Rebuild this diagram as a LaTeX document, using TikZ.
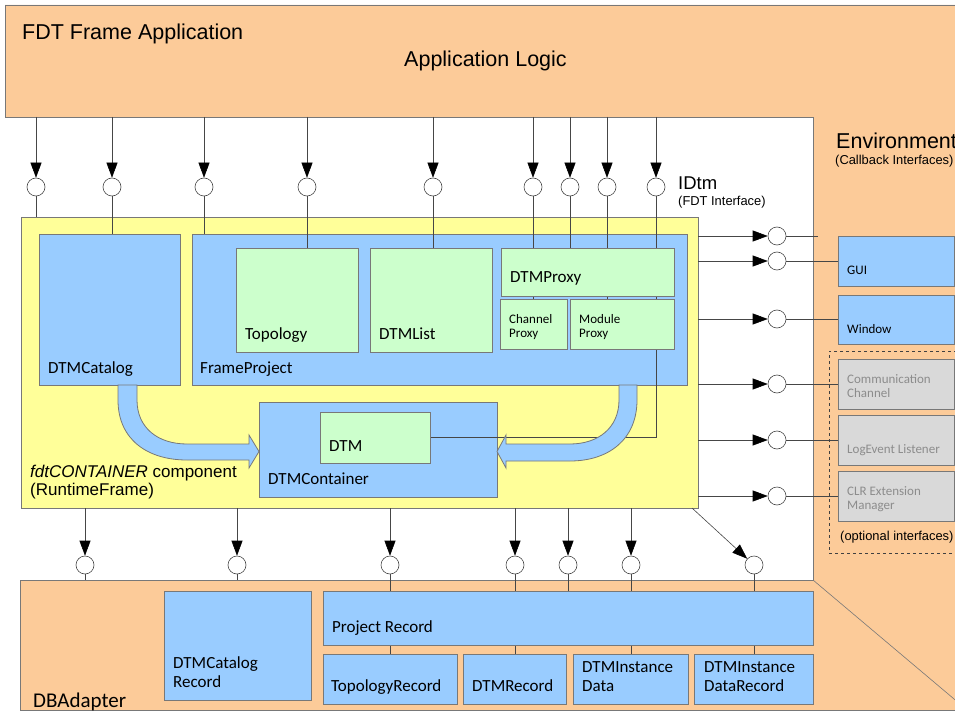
\documentclass[tikz,border=0pt]{standalone}
\usepackage{fontspec}
\setmainfont{Liberation Sans}
\newfontfamily\calfont{Carlito}
\usetikzlibrary{arrows.meta,calc}
\definecolor{orng}{RGB}{252,203,153}
\definecolor{ylw}{RGB}{255,255,153}
\definecolor{blu}{RGB}{153,204,255}
\definecolor{grn}{RGB}{204,255,204}
\definecolor{gry}{RGB}{217,217,217}
\definecolor{gtxt}{RGB}{140,140,140}
\definecolor{bordc}{RGB}{120,120,120}
\definecolor{wirec}{RGB}{70,70,70}
\pgfdeclarelayer{back}
\pgfdeclarelayer{wires}
\pgfsetlayers{back,wires,main}
\tikzset{
  box/.style={draw=bordc, line width=0.8pt, anchor=north west, inner sep=0pt, outer sep=0pt},
  bluebox/.style={box, fill=blu},
  greenbox/.style={box, fill=grn},
  graybox/.style={box, fill=gry},
  ifc/.style={circle, draw=wirec, fill=white, minimum size=18pt, inner sep=0pt, line width=0.6pt},
  wire/.style={draw=wirec, line width=0.6pt},
  arr/.style={wire, -{Triangle[length=15pt,width=11pt,color=black,fill=black]}},
  lbl/.style={anchor=base west, inner sep=0pt, font=\calfont\fontsize{17}{17}\selectfont},
  slbl/.style={anchor=base west, inner sep=0pt, font=\calfont\fontsize{13}{13}\selectfont},
  glbl/.style={slbl, text=gtxt},
  big/.style={anchor=base west, inner sep=0pt, font=\fontsize{21.5}{21.5}\selectfont},
  mid/.style={anchor=base west, inner sep=0pt, font=\fontsize{17}{17}\selectfont},
  paren/.style={anchor=base west, inner sep=0pt, font=\fontsize{12.9}{13}\selectfont},
  blockarrow/.style={fill=blu, draw=bordc, line width=0.8pt},
}
\begin{document}
\begin{tikzpicture}[x=1pt,y=-1pt]
\clip (0,0) rectangle (955,711);
\begin{pgfonlayer}{back}
  \fill[white] (0,0) rectangle (955,711);
  \fill[orng] (5,5) -| (960,710) -| (20,580) -| (813,117) -| cycle;
  \draw[bordc, line width=0.8pt] (5,5) -| (960,710) -| (20,580) -| (813,117) -| cycle;
  \draw[bordc, line width=0.6pt] (813,580) -- (960,704);
  \node[box, draw=none, minimum width=950, minimum height=112] (app) at (5,5) {};
  \node[box, draw=none, minimum width=935, minimum height=130] (dba) at (20,580) {};
  \node[box, fill=ylw, minimum width=677, minimum height=291] (cont) at (21,217) {};
  \node[bluebox, minimum width=141, minimum height=151] (cat) at (39,234) {};
  \node[bluebox, minimum width=495, minimum height=151] (fp) at (192,234) {};
  \node[bluebox, minimum width=238, minimum height=95] (dcont) at (259,402) {};
\end{pgfonlayer}

% green inner boxes
\node[greenbox, minimum width=122, minimum height=104] (topo) at (236,248) {};
\node[greenbox, minimum width=122, minimum height=104] (dlist) at (370,248) {};
\node[greenbox, minimum width=173, minimum height=48] (dproxy) at (501,248) {};
\node[greenbox, minimum width=67, minimum height=50] (chan) at (500,299) {};
\node[greenbox, minimum width=104, minimum height=50] (modp) at (570,299) {};
\node[greenbox, minimum width=110, minimum height=51] (dtm) at (320,412) {};

% environment boxes
\node[bluebox, minimum width=116, minimum height=50] (gui) at (838,236) {};
\node[bluebox, minimum width=116, minimum height=49] (win) at (838,295) {};
\node[box, dashed, draw=black!75, minimum width=140, minimum height=202] (opt) at (829,351) {};
\node[graybox, minimum width=116, minimum height=50] (comm) at (838,359) {};
\node[graybox, minimum width=116, minimum height=50] (logev) at (838,415) {};
\node[graybox, minimum width=116, minimum height=50] (clr) at (838,471) {};

% DB adapter boxes
\node[bluebox, minimum width=147, minimum height=109] (catrec) at (164,591) {};
\node[bluebox, minimum width=490, minimum height=54] (prec) at (323,591) {};
\node[bluebox, minimum width=134, minimum height=50] (trec) at (323,654) {};
\node[bluebox, minimum width=103, minimum height=50] (drec) at (463,654) {};
\node[bluebox, minimum width=115, minimum height=50] (didata) at (573,654) {};
\node[bluebox, minimum width=119, minimum height=50] (didrec) at (694,654) {};

% interface circles
\foreach \n/\x in {1/36,2/112,3/204,4/307,5/433,6/533,7/570,8/607,9/656}
  \node[ifc] (t\n) at (\x,187) {};
\foreach \n/\y in {1/236,2/261,3/319,4/384,5/440,6/496}
  \node[ifc] (r\n) at (777,\y) {};
\foreach \n/\x in {1/85,2/237,3/390,4/515,5/568,6/631,7/754}
  \node[ifc] (b\n) at (\x,565) {};
\coordinate (envedge) at (818,236);
\coordinate (dstart) at (692,508);

\begin{pgfonlayer}{wires}
  \foreach \n in {1,...,9} \draw[arr] (app.south -| t\n) -- (t\n);
  \draw[wire] (t1) -- (t1 |- cont.north);
  \draw[wire] (t2) -- (t2 |- cat.north);
  \draw[wire] (t3) -- (t3 |- fp.north);
  \draw[wire] (t4) -- (t4 |- topo.north);
  \draw[wire] (t5) -- (t5 |- dlist.north);
  \draw[wire] (t6) -- (t6 |- chan.north);
  \draw[wire] (t7) -- (t7 |- dproxy.north);
  \draw[wire] (t8) -- (t8 |- modp.north);
  \draw[wire] (t9) -- (t9 |- dtm.east) -- (dtm.east);

  \foreach \n in {1,...,6} \draw[arr] (r\n -| cont.east) -- (r\n);
  \draw[wire] (r1) -- (envedge);
  \draw[wire] (r2) -- (r2 -| gui.west);
  \draw[wire] (r3) -- (r3 -| win.west);
  \draw[wire] (r4) -- (r4 -| comm.west);
  \draw[wire] (r5) -- (r5 -| logev.west);
  \draw[wire] (r6) -- (r6 -| clr.west);

  \foreach \n in {1,...,6} \draw[arr] (b\n |- cont.south) -- (b\n);
  \draw[arr] (dstart) -- (b7);
  \draw[wire] (b1) -- (b1 |- dba.north);
  \draw[wire] (b2) -- (b2 |- dba.north);
  \draw[wire] (b3) -- (b3 |- trec.north);
  \draw[wire] (b4) -- (b4 |- drec.north);
  \draw[wire] (b5) -- (b5 |- prec.north);
  \draw[wire] (b6) -- (b6 |- didata.north);
  \draw[wire] (b7) -- (b7 |- didrec.north);
\end{pgfonlayer}

% block arrows
\draw[blockarrow] (118,385) -- (118,400) .. controls (118,440) and (148,460) .. (187,460)
  -- (249,460) -- (249,468) -- (259,451.5) -- (249,435) -- (249,444) -- (187,444)
  .. controls (158,444) and (137,428) .. (137,400) -- (137,385) -- cycle;
\draw[blockarrow] (637,385) -- (637,400) .. controls (637,440) and (608,461) .. (570,461)
  -- (506,461) -- (506,468) -- (497,451.5) -- (506,435) -- (506,444) -- (570,444)
  .. controls (598,444) and (619,428) .. (619,400) -- (619,385) -- cycle;

% texts
\node[big] (tFDT) at (22,40) {FDT Frame Application};
\node[big] (tLogic) at (404,67) {Application Logic};
\node[anchor=base west, inner sep=0pt, font=\fontsize{18.5}{18.5}\selectfont] (tIDtm) at (678,190) {IDtm};
\node[paren] (tFDTi) at (678,206) {(FDT Interface)};
\node[big] (tEnv) at (836,149) {Environment};
\node[paren] (tCb) at (835,165) {(Callback Interfaces)};
\node[lbl] (lCat) at (48,373) {DTMCatalog};
\node[lbl] (lFp) at (200,373) {FrameProject};
\node[lbl] (lTopo) at (245,339) {Topology};
\node[lbl] (lList) at (379,339) {DTMList};
\node[lbl] (lProxy) at (510,283) {DTMProxy};
\node[slbl] (lChan1) at (509,323) {Channel};
\node[slbl] (lChan2) at (509,337) {Proxy};
\node[slbl] (lMod1) at (579,323) {Module};
\node[slbl] (lMod2) at (579,337) {Proxy};
\node[lbl] (lDtm) at (329,451) {DTM};
\node[lbl] (lCont) at (268,484) {DTMContainer};
\node[mid] (lFdtc) at (30,477) {\itshape fdtCONTAINER\upshape{} component};
\node[mid] (lRtf) at (30,495) {(RuntimeFrame)};
\node[slbl] (lGui) at (847,274) {GUI};
\node[slbl] (lWin) at (847,333) {Window};
\node[glbl] (lComm1) at (847,383) {Communication};
\node[glbl] (lComm2) at (847,397) {Channel};
\node[glbl] (lLog) at (847,453) {LogEvent Listener};
\node[glbl] (lClr1) at (847,495) {CLR Extension};
\node[glbl] (lClr2) at (847,509) {Manager};
\node[paren] (lOpt) at (840,540) {(optional interfaces)};
\node[lbl] (lCatR1) at (173,668) {DTMCatalog};
\node[lbl] (lCatR2) at (173,687) {Record};
\node[lbl] (lPrec) at (332,632) {Project Record};
\node[lbl] (lTrec) at (331,691) {TopologyRecord};
\node[lbl] (lDrec) at (472,691) {DTMRecord};
\node[lbl] (lDid1) at (582,672) {DTMInstance};
\node[lbl] (lDid2) at (582,691) {Data};
\node[lbl] (lDidr1) at (704,672) {DTMInstance};
\node[lbl] (lDidr2) at (704,691) {DataRecord};
\node[anchor=base west, inner sep=0pt, font=\calfont\fontsize{21}{21}\selectfont] (lDba) at (33,707) {DBAdapter};
\end{tikzpicture}
\end{document}
